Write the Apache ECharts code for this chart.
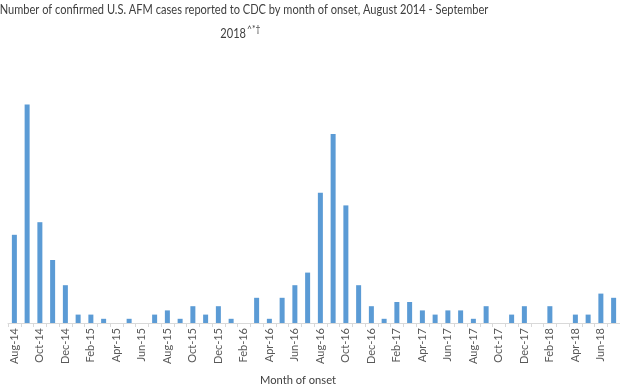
<!DOCTYPE html>
<html>
<head>
<meta charset="utf-8">
<script src="https://cdn.jsdelivr.net/npm/echarts@6/dist/echarts.min.js"></script>
<style>
html,body{margin:0;padding:0;background:#fff;}
#chart{width:620px;height:390px;}
</style>
</head>
<body>
<div id="chart"></div>
<script>
var months = ['Aug-14','Sep-14','Oct-14','Nov-14','Dec-14',
  'Jan-15','Feb-15','Mar-15','Apr-15','May-15','Jun-15','Jul-15','Aug-15','Sep-15','Oct-15','Nov-15','Dec-15',
  'Jan-16','Feb-16','Mar-16','Apr-16','May-16','Jun-16','Jul-16','Aug-16','Sep-16','Oct-16','Nov-16','Dec-16',
  'Jan-17','Feb-17','Mar-17','Apr-17','May-17','Jun-17','Jul-17','Aug-17','Sep-17','Oct-17','Nov-17','Dec-17',
  'Jan-18','Feb-18','Mar-18','Apr-18','May-18','Jun-18','Jul-18'];
var cases = [21,52,24,15,9,
  2,2,1,0,1,0,2,3,1,4,2,4,
  1,0,6,1,6,9,12,31,45,28,9,4,
  1,5,5,3,2,3,3,1,4,0,2,4,
  0,4,0,2,2,7,6];
var titleLine1 = 'Number of confirmed U.S. AFM cases reported to CDC by month of onset, August 2014 - September';
var titleLine2 = '2018';
var titleSup = '^*†';
var xAxisName = 'Month of onset';

var chart = echarts.init(document.getElementById('chart'));
chart.setOption({
  animation: false,
  graphic: [
    { type: 'text', x: 244, y: 10, scaleX: 0.885, style: { text: titleLine1, x: 0, y: 0, textAlign: 'center', textVerticalAlign: 'middle', font: '12.5px Lato', fill: '#404040' } },
    { type: 'text', x: 246, y: 34, scaleX: 0.885, style: { text: titleLine2, x: 0, y: 0, textAlign: 'right', textVerticalAlign: 'middle', font: '12.5px Lato', fill: '#404040' } },
    { type: 'text', x: 247, y: 28.5, scaleX: 0.9, style: { text: titleSup, x: 0, y: 0, textAlign: 'left', textVerticalAlign: 'middle', font: '9.5px Lato', fill: '#404040' } },
    { type: 'text', x: 298, y: 380, scaleX: 0.93, style: { text: xAxisName, x: 0, y: 0, textAlign: 'center', textVerticalAlign: 'middle', font: '12px Lato', fill: '#404040' } }
  ],
  grid: { left: 8, right: 0, top: 71, bottom: 67 },
  xAxis: {
    type: 'category',
    data: months,
    axisLine: { lineStyle: { color: '#d9d9d9', width: 1 } },
    axisTick: { show: true, alignWithLabel: false, interval: 0, length: 4, lineStyle: { color: '#d9d9d9' } },
    axisLabel: { interval: 1, rotate: 90, fontFamily: 'Lato', fontSize: 11, color: '#595959', margin: 5 }
  },
  yAxis: {
    type: 'value',
    min: 0,
    max: 60,
    show: false,
    splitLine: { show: false }
  },
  series: [{
    type: 'bar',
    data: cases,
    barWidth: 5,
    itemStyle: { color: '#5B9BD5' }
  }]
});
</script>
</body>
</html>
